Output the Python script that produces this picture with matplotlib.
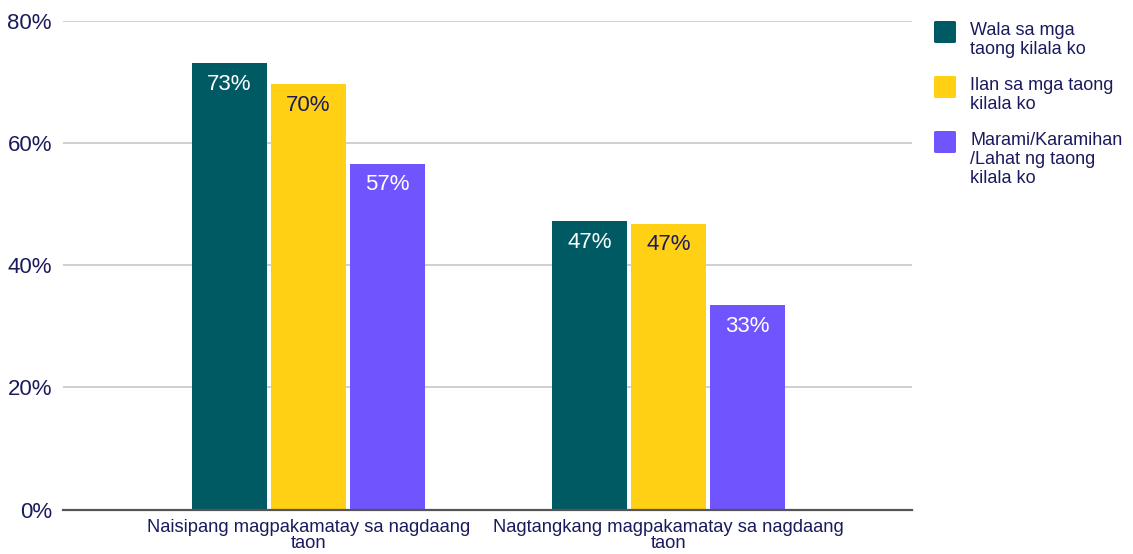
import numpy as np
import matplotlib
matplotlib.use('Agg')
import matplotlib.pyplot as plt
from matplotlib.patches import FancyBboxPatch

# Datos
categorias = ['Naisipang magpakamatay sa nagdaang\ntaon', 'Nagtangkang magpakamatay sa nagdaang\ntaon']
series = ['Wala sa mga\ntaong kilala ko', 'Ilan sa mga taong\nkilala ko', 'Marami/Karamihan\n/Lahat ng taong\nkilala ko']
wala = [73.0, 47.2]
ilan = [69.6, 46.8]
marami = [56.6, 33.4]
valores = [wala, ilan, marami]
y_ticks = [0, 20, 40, 60, 80]

colores = ['#005a64', '#ffd014', '#7055ff']
color_etiqueta = ['white', '#1a1a5e', 'white']
navy = '#1a1a5e'

plt.rcParams['font.family'] = ['Liberation Sans', 'DejaVu Sans']

fig = plt.figure(figsize=(11.33, 5.54), dpi=100)
ax = fig.add_axes([0.0556, 0.0803, 0.805 - 0.0556, 0.9626 - 0.0803])

x = np.arange(len(categorias))
ancho = 0.208
paso = 0.219
for i, (vals, c) in enumerate(zip(valores, colores)):
    barras = ax.bar(x + (i - 1) * paso, vals, width=ancho, color=c, zorder=3)
    for b, v in zip(barras, vals):
        ax.annotate(f'{v:.0f}%', (b.get_x() + b.get_width() / 2, b.get_height()),
                    xytext=(0, -19.2), textcoords='offset points', ha='center', va='baseline',
                    fontsize=16, color=color_etiqueta[i], zorder=4)

ax.set_xlim(-0.68, 1.675)
ax.set_ylim(0, 80)
ax.set_yticks(y_ticks)
ax.set_yticklabels([f'{t}%' for t in y_ticks], fontsize=16, color=navy)
ax.tick_params(axis='y', length=0, pad=8)
ax.set_xticks(x)
ax.set_xticklabels(categorias, fontsize=13.2, color=navy, linespacing=0.92)
ax.tick_params(axis='x', length=0, pad=7)
ax.yaxis.grid(True, color='#cccccc', linewidth=1.3, zorder=0)
for s in ['top', 'right', 'left']:
    ax.spines[s].set_visible(False)
ax.spines['bottom'].set_color('#555555')
ax.spines['bottom'].set_linewidth(1.6)
ax.spines['bottom'].set_zorder(5)

# Leyenda manual
W, H = 1133, 554
tops = [21, 76, 131]
for top, lab, c in zip(tops, series, colores):
    fig.patches.append(FancyBboxPatch((934 / W, 1 - (top + 22) / H), 22 / W, 22 / H,
                                      boxstyle='round,pad=0,rounding_size=0.002',
                                      transform=fig.transFigure, facecolor=c, edgecolor='none'))
    fig.text(970 / W, 1 - (top + 1) / H, lab, fontsize=13, color=navy, va='top', ha='left',
             linespacing=1.15)

fig.savefig('out.png', dpi=100)
